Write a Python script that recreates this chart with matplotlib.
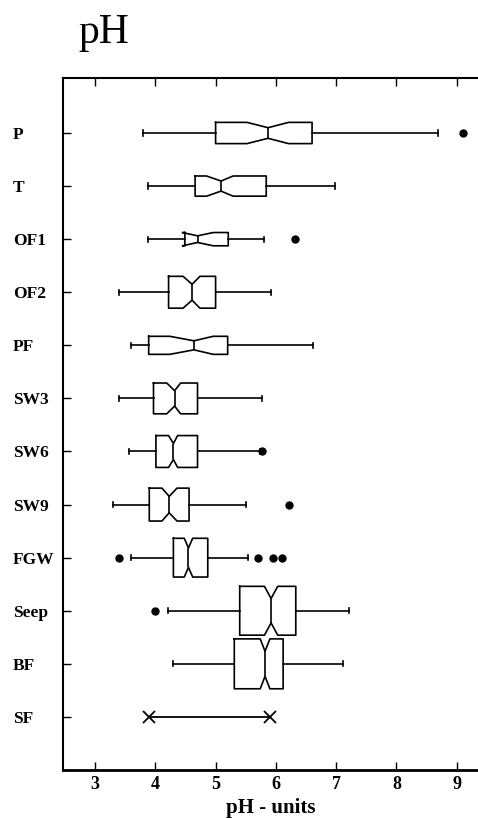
import matplotlib
matplotlib.use("Agg")
import matplotlib.pyplot as plt

plt.rcParams['font.family'] = ['Liberation Serif', 'DejaVu Serif']

groups = ["P", "T", "OF1", "OF2", "PF", "SW3", "SW6", "SW9", "FGW", "Seep", "BF"]
whislo = [3.79, 3.88, 3.88, 3.39, 3.59, 3.39, 3.57, 3.29, 3.60, 4.21, 4.30]
q1 = [5.00, 4.66, 4.49, 4.22, 3.89, 3.97, 4.01, 3.90, 4.30, 5.40, 5.31]
med = [5.87, 5.09, 4.70, 4.61, 4.64, 4.32, 4.30, 4.23, 4.55, 5.92, 5.82]
q3 = [6.60, 5.84, 5.21, 5.00, 5.20, 4.70, 4.70, 4.56, 4.87, 6.33, 6.12]
whishi = [8.69, 6.98, 5.80, 5.92, 6.62, 5.77, 5.73, 5.50, 5.54, 7.21, 7.11]
cilo = [5.52, 4.85, 4.45, 4.46, 4.24, 4.19, 4.22, 4.11, 4.48, 5.81, 5.74]
cihi = [6.21, 5.29, 4.96, 4.74, 4.96, 4.42, 4.37, 4.36, 4.62, 6.03, 5.90]
fliers = [[9.10], [], [6.31], [], [], [], [5.77], [6.21],
          [3.39, 5.71, 5.96, 6.10], [4.00], []]
box_heights = [0.40, 0.38, 0.25, 0.60, 0.34, 0.58, 0.60, 0.62, 0.73, 0.92, 0.94]

sf_label = "SF"
sf_range = [3.90, 5.90]

x_ticks = [3, 4, 5, 6, 7, 8, 9]

fig = plt.figure(figsize=(4.78, 8.18), dpi=100)
ax = fig.add_axes([63/478, 48/818, 1 - 63/478, (770-78)/818])

stats = []
for i, g in enumerate(groups):
    stats.append(dict(label=g, whislo=whislo[i], q1=q1[i], med=med[i], q3=q3[i],
                      whishi=whishi[i], cilo=cilo[i], cihi=cihi[i], fliers=fliers[i]))

positions = list(range(1, len(groups) + 1))
lc = 'black'
ax.bxp(stats, positions=positions, widths=box_heights, orientation='horizontal',
       shownotches=True, capwidths=[0.1] * len(groups), manage_ticks=False,
       boxprops=dict(color=lc, linewidth=1.2),
       whiskerprops=dict(color=lc, linewidth=1.2),
       capprops=dict(color=lc, linewidth=1.2),
       medianprops=dict(color=lc, linewidth=1.2),
       flierprops=dict(marker='o', markerfacecolor=lc, markeredgecolor=lc, markersize=5))

sf_pos = len(groups) + 1
ax.plot(sf_range, [sf_pos, sf_pos], color=lc, linewidth=1.3, marker='x',
        markersize=9, markeredgewidth=1.3)

ax.set_xlim(2.469, 9.352)
ax.set_ylim(13.0, -0.036)

ax.set_yticks(positions + [sf_pos])
ax.set_yticklabels(groups + [sf_label], ha='left', fontsize=12.5, fontweight='bold')
ax.tick_params(axis='y', direction='in', length=6, width=1, pad=36)

ax.set_xticks(x_ticks)
ax.set_xticklabels([str(t) for t in x_ticks], fontsize=13, fontweight='bold')
ax.tick_params(axis='x', direction='in', length=6, width=1, top=True, pad=4)

ax.spines['right'].set_visible(False)
ax.spines['left'].set_linewidth(1.5)
ax.spines['top'].set_linewidth(1.5)
ax.spines['bottom'].set_linewidth(2.0)

ax.set_xlabel("pH - units", fontsize=15, fontweight='semibold', labelpad=4)

fig.text(0.218, 0.947, "pH", fontsize=30, ha='center', va='baseline')

fig.savefig("out.png", dpi=100)
